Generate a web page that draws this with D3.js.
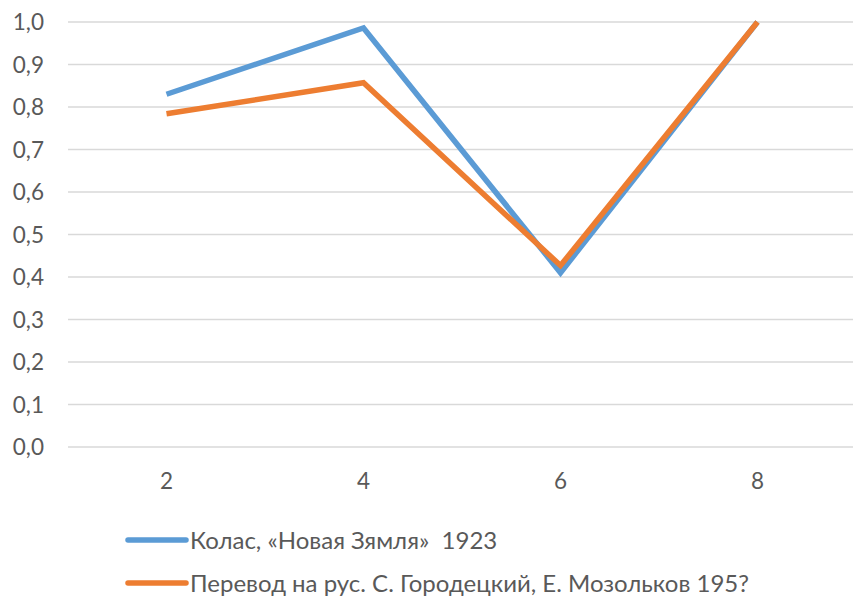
<!DOCTYPE html>
<html>
  <head>
    <meta charset="utf-8">
    <title>Колас</title>
    <style>
      body { margin: 0; background: #fff; }
      text { font-family: Lato, "Open Sans", sans-serif; fill: #595959; }
    </style>
  </head>
  <body>
    <svg id="container" width="853" height="601"></svg>
    <script src="https://cdn.jsdelivr.net/npm/d3@7"></script>
    <script>
      const categories = ["2", "4", "6", "8"];
      const kolas = [0.83, 0.986, 0.41, 1.0];
      const perevod = [0.784, 0.857, 0.427, 1.0];
      const yTicks = [0, 0.1, 0.2, 0.3, 0.4, 0.5, 0.6, 0.7, 0.8, 0.9, 1.0];
      const seriesNames = ["Колас, «Новая Зямля»  1923", "Перевод на рус. С. Городецкий, Е. Мозольков 195?"];
      const colors = ["#5B9BD5", "#ED7D31"];

      const svg = d3.select("#container");
      const plotLeft = 68, plotRight = 856, plotTop = 22, plotBottom = 447;

      const x = d3.scalePoint().domain(categories).range([plotLeft, plotRight]).padding(0.5);
      const y = d3.scaleLinear().domain([0, 1]).range([plotBottom, plotTop]);

      // grid lines
      svg.append("g").selectAll("line")
        .data(yTicks).enter().append("line")
        .attr("x1", plotLeft).attr("x2", 853)
        .attr("y1", d => y(d)).attr("y2", d => y(d))
        .attr("stroke", "#D9D9D9").attr("stroke-width", 1.5);

      // y labels
      svg.append("g").selectAll("text")
        .data(yTicks).enter().append("text")
        .attr("x", 44).attr("y", d => y(d) + 8)
        .attr("text-anchor", "end")
        .attr("font-size", 22.5)
        .text(d => d3.format(".1f")(d).replace(".", ","));

      // x labels
      svg.append("g").selectAll("text")
        .data(categories).enter().append("text")
        .attr("x", d => x(d)).attr("y", 489)
        .attr("text-anchor", "middle")
        .attr("font-size", 22.5)
        .text(d => d);

      const line = d3.line().x((d, i) => x(categories[i])).y(d => y(d));

      [kolas, perevod].forEach((s, i) => {
        svg.append("path")
          .attr("d", line(s))
          .attr("fill", "none")
          .attr("stroke", colors[i])
          .attr("stroke-width", 5.5)
          .attr("stroke-linejoin", "miter");
      });

      // legend
      const legend = svg.append("g").selectAll("g")
        .data(seriesNames).enter().append("g")
        .attr("transform", (d, i) => `translate(128,${540 + i * 43})`);
      legend.append("line")
        .attr("x1", 0).attr("x2", 58).attr("y1", 0).attr("y2", 0)
        .attr("stroke", (d, i) => colors[i])
        .attr("stroke-width", 5.5).attr("stroke-linecap", "round");
      legend.append("text")
        .attr("x", 62).attr("y", 8.5)
        .attr("font-size", 24)
        .style("white-space", "pre")
        .text(d => d);
    </script>
  </body>
</html>
